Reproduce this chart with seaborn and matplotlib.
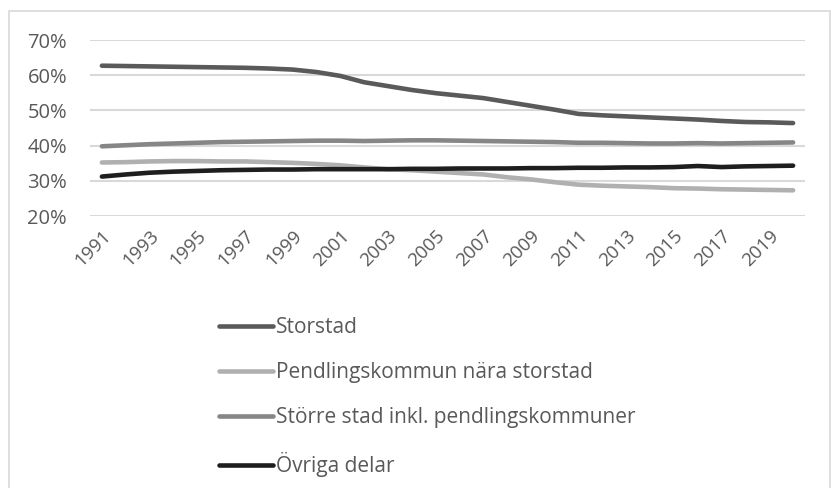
import matplotlib
matplotlib.use("Agg")
import matplotlib.pyplot as plt
import seaborn as sns
import pandas as pd
from matplotlib.patches import Rectangle

years = list(range(1991, 2021))
storstad = [62.7, 62.6, 62.5, 62.4, 62.3, 62.2, 62.1, 61.9, 61.6, 60.9,
            59.8, 58.0, 56.9, 55.8, 54.9, 54.2, 53.5, 52.4, 51.3, 50.2,
            49.0, 48.6, 48.3, 48.0, 47.7, 47.4, 47.0, 46.7, 46.6, 46.4]
pendling = [35.2, 35.3, 35.5, 35.6, 35.6, 35.5, 35.5, 35.3, 35.1, 34.8,
            34.4, 33.8, 33.3, 33.0, 32.6, 32.2, 31.8, 31.0, 30.4, 29.6,
            28.9, 28.6, 28.4, 28.2, 27.9, 27.8, 27.6, 27.5, 27.4, 27.3]
storre = [39.8, 40.1, 40.4, 40.6, 40.8, 41.0, 41.1, 41.2, 41.3, 41.4,
          41.4, 41.3, 41.4, 41.5, 41.5, 41.4, 41.3, 41.2, 41.1, 41.0,
          40.8, 40.8, 40.7, 40.6, 40.6, 40.7, 40.6, 40.7, 40.8, 40.9]
ovriga = [31.2, 31.8, 32.3, 32.6, 32.8, 33.0, 33.1, 33.2, 33.2, 33.3,
          33.3, 33.3, 33.3, 33.4, 33.4, 33.5, 33.5, 33.5, 33.6, 33.6,
          33.7, 33.7, 33.8, 33.8, 33.9, 34.2, 33.9, 34.1, 34.2, 34.3]

series_names = ["Storstad", "Pendlingskommun nära storstad",
                "Större stad inkl. pendlingskommuner", "Övriga delar"]
series_values = [storstad, pendling, storre, ovriga]
colors = ["#5a5a5a", "#b0b0b0", "#868686", "#1e1e1e"]
y_ticks = [20, 30, 40, 50, 60, 70]
x_ticks = list(range(1991, 2020, 2))

rows = []
for name, vals in zip(series_names, series_values):
    for y, v in zip(years, vals):
        rows.append({"År": y, "Andel": v / 100.0, "Område": name})
df = pd.DataFrame(rows)

sns.set_theme(style="white")
plt.rcParams["font.family"] = ["Open Sans", "DejaVu Sans"]

W, H = 831, 488
fig = plt.figure(figsize=(W / 100, H / 100), dpi=100)
ax = fig.add_axes([90 / W, 1 - 216 / H, (805 - 90) / W, (216 - 40) / H])

sns.lineplot(data=df, x="År", y="Andel", hue="Område", hue_order=series_names,
             palette=colors, linewidth=3.3, ax=ax, legend=False,
             solid_capstyle="round")

ax.set_xlim(1990.5, 2020.5)
ax.set_ylim(0.2, 0.7)
ax.set_yticks([t / 100 for t in y_ticks])
ax.set_yticklabels([f"{t}%" for t in y_ticks], fontsize=14.5, color="#595959")
ax.set_xticks(x_ticks)
ax.set_xticklabels([str(t) for t in x_ticks], rotation=45, ha="right",
                   rotation_mode="anchor", fontsize=13.5, color="#595959")
ax.tick_params(axis="y", length=0, pad=16.5)
ax.tick_params(axis="x", length=0, pad=8)
ax.grid(axis="y", color="#d9d9d9", linewidth=1.5)
ax.set_axisbelow(True)
for s in ax.spines.values():
    s.set_visible(False)
ax.set_xlabel("")
ax.set_ylabel("")

handles = [plt.Line2D([], [], color=c, linewidth=3.3, solid_capstyle="round")
           for c in colors]
fig.legend(handles, series_names, loc="upper left",
           bbox_to_anchor=(219 / W, 1 - 317 / H), frameon=False,
           fontsize=15, handlelength=2.6, handletextpad=0.15,
           labelspacing=1.15, borderpad=0, borderaxespad=0,
           labelcolor="#595959")

fig.patches.append(Rectangle((8.5 / W, -0.1), (829.5 - 8.5) / W, 1.1 - 11.5 / H,
                             transform=fig.transFigure, fill=False,
                             edgecolor="#d9d9d9", linewidth=1.2))

fig.savefig("out.png", dpi=100)
